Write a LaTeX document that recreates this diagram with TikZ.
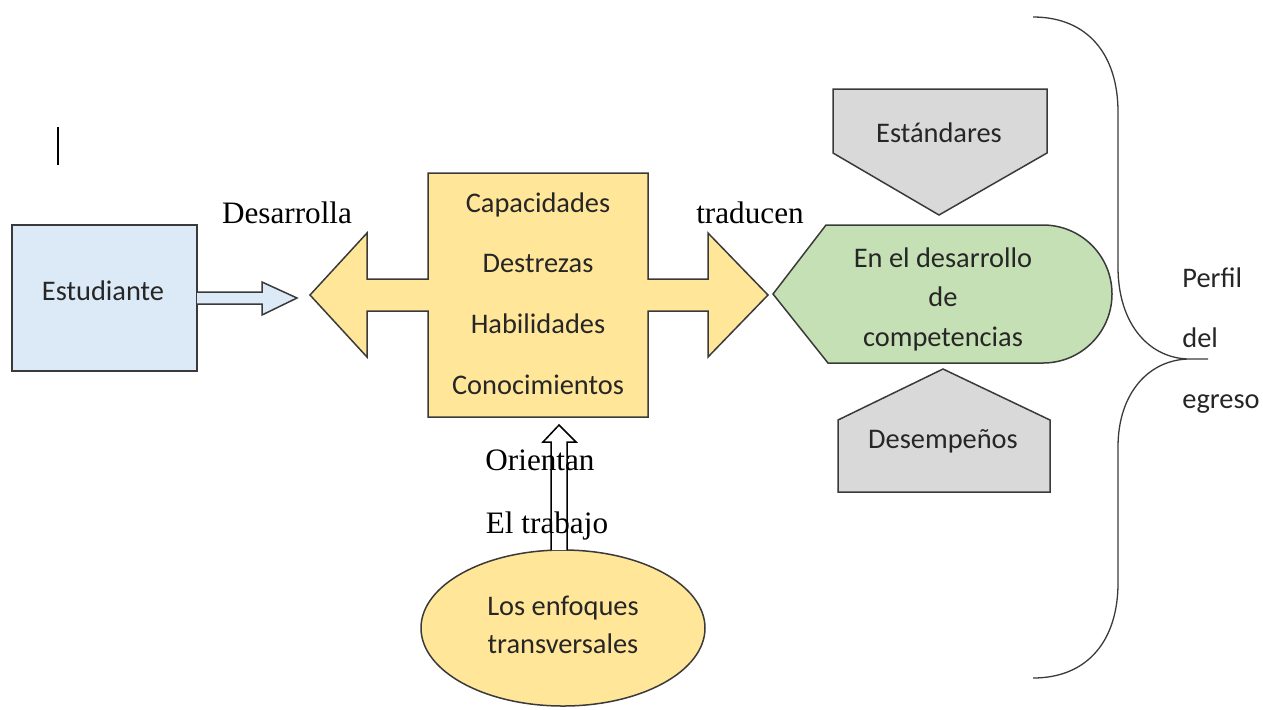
\documentclass[tikz,border=0pt]{standalone}
\usepackage{fontspec}
\setmainfont{Carlito}
\newfontfamily\timesfont{Liberation Serif}
\usetikzlibrary{positioning,shapes.geometric}

\definecolor{studentblue}{HTML}{DCE9F6}
\definecolor{skillyellow}{HTML}{FFE699}
\definecolor{compgreen}{HTML}{C5E0B4}
\definecolor{stdgray}{HTML}{D9D9D9}
\definecolor{edgegray}{HTML}{3A3A3A}

\begin{document}
\begin{tikzpicture}[
  x=0.5pt, y=-0.5pt,
  every node/.style={inner sep=0pt},
  sans-label/.style={font=\fontsize{14.2}{17}\selectfont, text=black!85, text height=10pt, text depth=0pt},
  serif-label/.style={font=\timesfont\fontsize{15.6}{18}\selectfont, text=black, text height=10.5pt, text depth=0pt},
  block-shape/.style={draw=edgegray, line width=0.75pt, line join=miter},
  ]
  \useasboundingbox (0,0) rectangle (1263,709);

  \draw [line width=0.8pt] (58,127) -- (58,165);

  % student
  \node [block-shape, fill=studentblue, minimum width=92.5pt, minimum height=73pt] (student-box) at (104.5,298) {};
  \node [sans-label] (student-text-node) at (103,290) {Estudiante};
  \draw [block-shape, fill=studentblue] (197,292) -- (262,292) -- (262,282) -- (297,298)
    -- (262,315) -- (262,304) -- (197,304);

  % skills with double arrow
  \draw [block-shape, fill=skillyellow] (310,295) -- (367,233) -- (367,279) -- (428,279)
    -- (428,173) -- (648,173) -- (648,279) -- (708,279) -- (708,233) -- (768,295)
    -- (708,357) -- (708,311) -- (648,311) -- (648,417) -- (428,417) -- (428,311)
    -- (367,311) -- (367,357) -- cycle;
  \node [sans-label] (capac-text-node) at (538,202) {Capacidades};
  \node [sans-label, below=20pt of capac-text-node] (destr-text-node) {Destrezas};
  \node [sans-label, below=20pt of destr-text-node] (habil-text-node) {Habilidades};
  \node [sans-label, below=20pt of habil-text-node] (conoc-text-node) {Conocimientos};

  \node [serif-label] (desarrolla-text-node) at (287,213) {Desarrolla};
  \node [serif-label] (traducen-text-node) at (750,213) {traducen};

  % cross-cutting approaches
  \node [block-shape, ellipse, fill=skillyellow, minimum width=142pt, minimum height=78pt] (enfoques-root) at (563,628) {};
  \node [sans-label] (enfoques-text-node) at (563,605) {Los enfoques};
  \node [sans-label, below=9pt of enfoques-text-node] (transv-text-node) {transversales};
  \draw [draw=black, line width=0.75pt, fill=white] (551,550) -- (551,442) -- (543,442) -- (559,425)
    -- (576,442) -- (567,442) -- (567,550);
  \node [serif-label] (orientan-text-node) at (540,460) {Orientan};
  \node [serif-label] (trabajo-text-node) at (547,523) {El trabajo};

  % competencies
  \draw [block-shape, fill=stdgray] (833,89) -- (1047,89) -- (1047,153) -- (939,215) -- (833,153) -- cycle;
  \node [sans-label] (estandares-text-node) at (939,132) {Estándares};
  \draw [block-shape, fill=compgreen] (773,294) -- (826,225) -- (1043,225)
    arc [start angle=90, end angle=-90, radius=34.5pt] -- (828,363) -- cycle;
  \node [sans-label] (desarrollo-text-node) at (943,257) {En el desarrollo};
  \node [sans-label, below=9.5pt of desarrollo-text-node] (de-text-node) {de};
  \node [sans-label, below=9.5pt of de-text-node] (compet-text-node) {competencias};
  \draw [block-shape, fill=stdgray] (943,369) -- (1050,420) -- (1050,492) -- (838,492) -- (838,420) -- cycle;
  \node [sans-label] (desemp-text-node) at (943,438) {Desempeños};

  % brace
  \draw [draw=edgegray, line width=0.65pt] (1033,17) .. controls (1088,17) and (1118,55) .. (1118,112)
    -- (1118,267) .. controls (1118,325) and (1150,359) .. (1190,359) -- (1208,359)
    (1190,359) .. controls (1150,359) and (1118,392) .. (1118,447)
    -- (1118,583) .. controls (1118,640) and (1088,678) .. (1033,678);
  \node [sans-label, anchor=west] (perfil-text-node) at (1182,277) {Perfil};
  \node [sans-label, below=20pt of perfil-text-node.south west, anchor=north west] (del-text-node) {del};
  \node [sans-label, below=20pt of del-text-node.south west, anchor=north west] (egreso-text-node) {egreso};

\end{tikzpicture}
\end{document}
